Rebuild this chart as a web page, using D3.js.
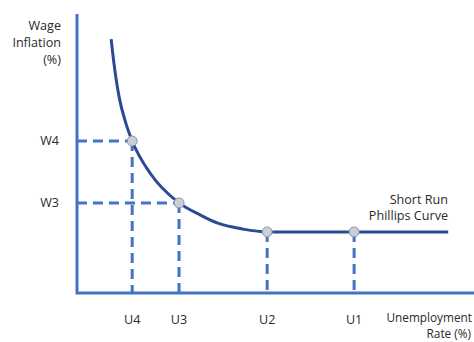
<!DOCTYPE html>
<html>
<head>
<meta charset="utf-8">
<script src="https://cdn.jsdelivr.net/npm/d3@7"></script>
<style>
  html, body { margin: 0; padding: 0; background: #fff; }
  svg { display: block; }
  text { font-family: "Open Sans", "Liberation Sans", sans-serif; fill: #2a2a2a; }
</style>
</head>
<body>
<svg id="chart" width="474" height="342"></svg>
<script>
// Curve data (unemployment index, wage inflation index)
const curveU = [8.6, 9.3, 10.6, 12.3, 13.9, 18.4, 25.7, 31.0, 35.3, 41.8, 47.9, 56.2, 69.8, 93.5];
const curveW = [91.0, 82.4, 70.3, 60.9, 54.5, 43.0, 32.3, 28.0, 25.1, 22.9, 21.9, 21.9, 21.9, 21.9];

// Marked points
const pointLabels = ["U4", "U3", "U2", "U1"];
const pointU = [13.9, 25.7, 47.9, 69.8];
const pointW = [54.5, 32.3, 21.9, 21.9];

// Y tick labels (only for U4 and U3 points)
const wLabels = ["W4", "W3"];
const wValues = [54.5, 32.3];

const svg = d3.select("#chart");
const x = d3.scaleLinear().domain([0, 100]).range([77, 474]);
const y = d3.scaleLinear().domain([0, 100]).range([293, 14]);

const axisColor = "#4472C4";
const curveColor = "#2B4A93";
const fs = 12.6;

// Dashed guide lines
const g = svg.append("g");
pointU.forEach((u, i) => {
  g.append("line")
    .attr("x1", x(u)).attr("x2", x(u))
    .attr("y1", y(pointW[i])).attr("y2", y(0))
    .attr("stroke", axisColor).attr("stroke-width", 3)
    .attr("stroke-dasharray", "10,6");
});
wValues.forEach((w, i) => {
  g.append("line")
    .attr("x1", x(0)).attr("x2", x(pointU[i]))
    .attr("y1", y(w)).attr("y2", y(w))
    .attr("stroke", axisColor).attr("stroke-width", 3)
    .attr("stroke-dasharray", "10,6");
});

// Axes
svg.append("path")
  .attr("d", `M${x(0)},${y(100)} L${x(0)},${y(0)} L${x(100)},${y(0)}`)
  .attr("fill", "none").attr("stroke", axisColor).attr("stroke-width", 3);

// Curve
const data = curveU.map((u, i) => [u, curveW[i]]);
svg.append("path")
  .datum(data)
  .attr("d", d3.line().x(d => x(d[0])).y(d => y(d[1])).curve(d3.curveMonotoneX))
  .attr("fill", "none").attr("stroke", curveColor).attr("stroke-width", 3);

// Points
pointU.forEach((u, i) => {
  svg.append("circle")
    .attr("cx", x(u)).attr("cy", y(pointW[i])).attr("r", 5)
    .attr("fill", "#C9CDD4").attr("stroke", "#8A98B4").attr("stroke-width", 1);
});

// X labels
pointU.forEach((u, i) => {
  svg.append("text").attr("x", x(u)).attr("y", 321)
    .attr("text-anchor", "middle").attr("dominant-baseline", "middle")
    .attr("font-size", fs).text(pointLabels[i]);
});
// Y labels
wValues.forEach((w, i) => {
  svg.append("text").attr("x", 59).attr("y", y(w) + 1)
    .attr("text-anchor", "end").attr("dominant-baseline", "middle")
    .attr("font-size", fs).text(wLabels[i]);
});

// Axis titles
const yt = ["Wage", "Inflation", "(%)"];
yt.forEach((t, i) => {
  svg.append("text").attr("x", 61).attr("y", 27 + i * 17)
    .attr("text-anchor", "end").attr("dominant-baseline", "middle")
    .attr("font-size", fs).text(t);
});
svg.append("text").attr("x", 472).attr("y", 318.5)
  .attr("text-anchor", "end").attr("dominant-baseline", "middle")
  .attr("font-size", 11.8).text("Unemployment");
svg.append("text").attr("x", 471).attr("y", 335)
  .attr("text-anchor", "end").attr("dominant-baseline", "middle")
  .attr("font-size", 11.8).text("Rate (%)");

// Curve label
["Short Run", "Phillips Curve"].forEach((t, i) => {
  svg.append("text").attr("x", 448).attr("y", 201 + i * 16)
    .attr("text-anchor", "end").attr("dominant-baseline", "middle")
    .attr("font-size", fs).text(t);
});
</script>
</body>
</html>
